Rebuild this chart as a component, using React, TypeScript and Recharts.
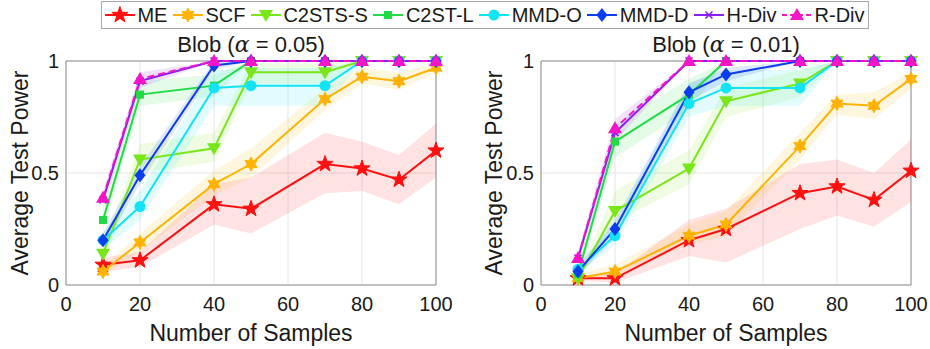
import React from "react"
import { ComposedChart, Line, Area, XAxis, YAxis, CartesianGrid, ReferenceArea } from "recharts"

const samples = [10, 20, 40, 50, 70, 80, 90, 100]
const xTicks = [0, 20, 40, 60, 80, 100]
const yTicks = [0, 0.5, 1]

// Blob, alpha = 0.05
const b05ME = [0.09, 0.11, 0.36, 0.34, 0.54, 0.52, 0.47, 0.6]
const b05SCF = [0.06, 0.19, 0.45, 0.54, 0.83, 0.93, 0.91, 0.97]
const b05C2STSS = [0.14, 0.56, 0.61, 0.95, 0.95, 1, 1, 1]
const b05C2STL = [0.29, 0.85, 0.89, 1, 1, 1, 1, 1]
const b05MMDO = [0.2, 0.35, 0.88, 0.89, 0.89, 1, 1, 1]
const b05MMDD = [0.2, 0.49, 0.98, 1, 1, 1, 1, 1]
const b05HDiv = [0.38, 0.91, 1, 1, 1, 1, 1, 1]
const b05RDiv = [0.39, 0.92, 1, 1, 1, 1, 1, 1]

const b05MEBand = [[0.06, 0.12], [0.08, 0.15], [0.27, 0.45], [0.23, 0.48], [0.41, 0.68], [0.42, 0.64], [0.36, 0.58], [0.48, 0.72]]
const b05SCFBand = [[0.04, 0.08], [0.15, 0.23], [0.4, 0.51], [0.48, 0.61], [0.78, 0.88], [0.9, 0.97], [0.87, 0.95], [0.95, 0.99]]
const b05C2STSSBand = [[0.1, 0.18], [0.5, 0.63], [0.55, 0.68], [0.9, 0.99], [0.9, 0.99], [1, 1], [1, 1], [1, 1]]
const b05C2STLBand = [[0.24, 0.34], [0.8, 0.91], [0.84, 0.94], [1, 1], [1, 1], [1, 1], [1, 1], [1, 1]]
const b05MMDOBand = [[0.16, 0.24], [0.29, 0.42], [0.8, 0.96], [0.8, 0.97], [0.8, 0.97], [1, 1], [1, 1], [1, 1]]
const b05MMDDBand = [[0.17, 0.23], [0.45, 0.53], [0.96, 1], [1, 1], [1, 1], [1, 1], [1, 1], [1, 1]]
const b05HDivBand = [[0.34, 0.42], [0.88, 0.95], [1, 1], [1, 1], [1, 1], [1, 1], [1, 1], [1, 1]]

// Blob, alpha = 0.01
const b01ME = [0.03, 0.03, 0.2, 0.25, 0.41, 0.44, 0.38, 0.51]
const b01SCF = [0.03, 0.06, 0.22, 0.27, 0.62, 0.81, 0.8, 0.92]
const b01C2STSS = [0.03, 0.33, 0.52, 0.82, 0.9, 1, 1, 1]
const b01C2STL = [0.05, 0.64, 0.85, 1, 1, 1, 1, 1]
const b01MMDO = [0.07, 0.22, 0.81, 0.88, 0.88, 1, 1, 1]
const b01MMDD = [0.06, 0.25, 0.86, 0.94, 1, 1, 1, 1]
const b01HDiv = [0.12, 0.68, 1, 1, 1, 1, 1, 1]
const b01RDiv = [0.12, 0.7, 1, 1, 1, 1, 1, 1]

const b01MEBand = [[0.02, 0.04], [0.01, 0.05], [0.13, 0.29], [0.1, 0.34], [0.25, 0.54], [0.31, 0.56], [0.26, 0.5], [0.37, 0.65]]
const b01SCFBand = [[0.02, 0.05], [0.04, 0.09], [0.18, 0.27], [0.22, 0.33], [0.56, 0.68], [0.76, 0.85], [0.74, 0.86], [0.88, 0.95]]
const b01C2STSSBand = [[0.01, 0.05], [0.28, 0.42], [0.45, 0.6], [0.75, 0.88], [0.84, 0.96], [1, 1], [1, 1], [1, 1]]
const b01C2STLBand = [[0.03, 0.08], [0.57, 0.72], [0.78, 0.92], [1, 1], [1, 1], [1, 1], [1, 1], [1, 1]]
const b01MMDOBand = [[0.05, 0.1], [0.18, 0.27], [0.75, 0.9], [0.8, 0.96], [0.8, 0.96], [1, 1], [1, 1], [1, 1]]
const b01MMDDBand = [[0.04, 0.08], [0.21, 0.29], [0.82, 0.9], [0.91, 0.97], [1, 1], [1, 1], [1, 1], [1, 1]]
const b01HDivBand = [[0.1, 0.15], [0.64, 0.74], [1, 1], [1, 1], [1, 1], [1, 1], [1, 1], [1, 1]]

const methods = [
  { key: "ME", name: "ME", color: "#ff1010", shape: "star5" },
  { key: "SCF", name: "SCF", color: "#ffb300", shape: "star6" },
  { key: "C2STSS", name: "C2STS-S", color: "#78e619", shape: "triDown" },
  { key: "C2STL", name: "C2ST-L", color: "#1fdc45", shape: "square" },
  { key: "MMDO", name: "MMD-O", color: "#12e3f5", shape: "circle" },
  { key: "MMDD", name: "MMD-D", color: "#0a3cf0", shape: "diamond" },
  { key: "HDiv", name: "H-Div", color: "#8a1cf5", shape: "cross" },
  { key: "RDiv", name: "R-Div", color: "#f514c8", shape: "triUp", dashed: true },
]

const FONT = "'Liberation Sans', Arial, sans-serif"
const TEXT = "#1a1a1a"

function buildRows(means: Record<string, number[]>, bands: Record<string, number[][]>) {
  return samples.map((x, i) => {
    const row: any = { x }
    for (const k of Object.keys(means)) row[k] = means[k][i]
    for (const k of Object.keys(bands)) row[k + "_band"] = bands[k][i]
    return row
  })
}

const rows05 = buildRows(
  { ME: b05ME, SCF: b05SCF, C2STSS: b05C2STSS, C2STL: b05C2STL, MMDO: b05MMDO, MMDD: b05MMDD, HDiv: b05HDiv, RDiv: b05RDiv },
  { ME: b05MEBand, SCF: b05SCFBand, C2STSS: b05C2STSSBand, C2STL: b05C2STLBand, MMDO: b05MMDOBand, MMDD: b05MMDDBand, HDiv: b05HDivBand }
)
const rows01 = buildRows(
  { ME: b01ME, SCF: b01SCF, C2STSS: b01C2STSS, C2STL: b01C2STL, MMDO: b01MMDO, MMDD: b01MMDD, HDiv: b01HDiv, RDiv: b01RDiv },
  { ME: b01MEBand, SCF: b01SCFBand, C2STSS: b01C2STSSBand, C2STL: b01C2STLBand, MMDO: b01MMDOBand, MMDD: b01MMDDBand, HDiv: b01HDivBand }
)

function starPoints(cx: number, cy: number, n: number, ro: number, ri: number) {
  const pts: string[] = []
  for (let i = 0; i < 2 * n; i++) {
    const r = i % 2 ? ri : ro
    const a = -Math.PI / 2 + (i * Math.PI) / n
    pts.push(`${cx + r * Math.cos(a)},${cy + r * Math.sin(a)}`)
  }
  return pts.join(" ")
}

function Marker({ shape, color, cx, cy }: { shape: string; color: string; cx: number; cy: number }) {
  switch (shape) {
    case "star5":
      return <polygon points={starPoints(cx, cy, 5, 8.5, 3.4)} fill={color} stroke={color} strokeWidth={1} />
    case "star6":
      return <polygon points={starPoints(cx, cy, 6, 7, 3.8)} fill={color} stroke={color} strokeWidth={1} />
    case "triDown":
      return <polygon points={`${cx - 7},${cy - 5} ${cx + 7},${cy - 5} ${cx},${cy + 7}`} fill={color} />
    case "triUp":
      return <polygon points={`${cx - 7},${cy + 5} ${cx + 7},${cy + 5} ${cx},${cy - 7}`} fill={color} />
    case "square":
      return <rect x={cx - 4} y={cy - 4} width={8} height={8} fill={color} />
    case "circle":
      return <circle cx={cx} cy={cy} r={5.5} fill={color} />
    case "diamond":
      return <polygon points={`${cx},${cy - 7} ${cx + 5.5},${cy} ${cx},${cy + 7} ${cx - 5.5},${cy}`} fill={color} />
    default:
      return (
        <path
          d={`M${cx - 3.5},${cy - 3.5}L${cx + 3.5},${cy + 3.5}M${cx - 3.5},${cy + 3.5}L${cx + 3.5},${cy - 3.5}M${cx - 4},${cy}L${cx + 4},${cy}`}
          stroke={color}
          strokeWidth={1.6}
        />
      )
  }
}

const makeDot = (shape: string, color: string) => (props: any) => {
  const { cx, cy, index } = props
  if (cx == null || cy == null) return <g key={`${shape}-${index}`} />
  return (
    <g key={`${shape}-${index}`}>
      <Marker shape={shape} color={color} cx={cx} cy={cy} />
    </g>
  )
}

const tickStyle = { fontSize: 20, fontFamily: FONT, fill: TEXT }

function Panel({ rows, left, yAxisWidth, marginRight }: { rows: any[]; left: number; yAxisWidth: number; marginRight: number }) {
  return (
    <div style={{ position: "absolute", left, top: 0 }}>
      <ComposedChart width={465} height={349} data={rows} margin={{ top: 61, right: marginRight, bottom: 0, left: 0 }}>
        <CartesianGrid stroke="#e6e6e6" strokeWidth={1} />
        <XAxis
          type="number"
          dataKey="x"
          domain={[0, 100]}
          ticks={xTicks}
          tickLine={false}
          axisLine={false}
          tickSize={0}
          tickMargin={12}
          height={64}
          tick={tickStyle}
        />
        <YAxis
          type="number"
          domain={[0, 1]}
          ticks={yTicks}
          tickLine={false}
          axisLine={false}
          tickSize={0}
          tickMargin={7}
          width={yAxisWidth}
          tick={tickStyle}
          tickFormatter={(v: number) => String(v)}
        />
        <ReferenceArea x1={0} x2={100} y1={0} y2={1} fill="none" stroke="#8f8f8f" strokeWidth={1} />
        {methods
          .filter((m) => rows[0][m.key + "_band"] !== undefined)
          .map((m) => (
            <Area
              key={m.key + "_band"}
              type="linear"
              dataKey={m.key + "_band"}
              stroke="none"
              fill={m.color}
              fillOpacity={0.12}
              activeDot={false}
              dot={false}
              isAnimationActive={false}
            />
          ))}
        {methods.map((m) => (
          <Line
            key={m.key}
            type="linear"
            dataKey={m.key}
            stroke={m.color}
            strokeWidth={2}
            strokeDasharray={m.dashed ? "7 4" : undefined}
            dot={makeDot(m.shape, m.color)}
            activeDot={false}
            isAnimationActive={false}
          />
        ))}
      </ComposedChart>
    </div>
  )
}

function LegendBox() {
  return (
    <div
      style={{
        position: "absolute",
        top: 1,
        left: 484.5,
        transform: "translateX(-50%)",
        height: 26,
        border: "1px solid #a8a8a8",
        background: "#fff",
        display: "flex",
        alignItems: "center",
        gap: 5,
        padding: "0 3px",
        fontFamily: FONT,
        fontSize: 20,
        color: TEXT,
        whiteSpace: "nowrap",
      }}
    >
      {methods.map((m) => (
        <div key={m.key} style={{ display: "flex", alignItems: "center", gap: 3 }}>
          <svg width={30} height={20}>
            <line x1={0} y1={10} x2={30} y2={10} stroke={m.color} strokeWidth={2} strokeDasharray={m.dashed ? "5 3" : undefined} />
            <Marker shape={m.shape} color={m.color} cx={15} cy={10} />
          </svg>
          <span>{m.name}</span>
        </div>
      ))}
    </div>
  )
}

function Overlay() {
  const label = { fontFamily: FONT, fontSize: 23, fill: TEXT }
  const title = { fontFamily: FONT, fontSize: 22, fill: TEXT }
  const alpha = (v: string) => (
    <>
      Blob (<tspan fontFamily="'DejaVu Serif', 'Liberation Serif', serif" fontStyle="italic">α</tspan> = {v})
    </>
  )
  return (
    <svg width={930} height={349} style={{ position: "absolute", left: 0, top: 0, pointerEvents: "none" }}>
      <text x={251} y={52} textAnchor="middle" {...title}>{alpha("0.05")}</text>
      <text x={726} y={52} textAnchor="middle" {...title}>{alpha("0.01")}</text>
      <text x={251} y={341} textAnchor="middle" {...label}>Number of Samples</text>
      <text x={726} y={341} textAnchor="middle" {...label}>Number of Samples</text>
      <text x={28} y={173} textAnchor="middle" transform="rotate(-90 28 173)" {...label}>Average Test Power</text>
      <text x={502} y={173} textAnchor="middle" transform="rotate(-90 502 173)" {...label}>Average Test Power</text>
    </svg>
  )
}

export default function App() {
  return (
    <div style={{ position: "absolute", left: 0, top: 0, width: 930, height: 349, background: "#fff", overflow: "hidden" }}>
      <Panel rows={rows05} left={0} yAxisWidth={66} marginRight={29} />
      <Panel rows={rows01} left={465} yAxisWidth={76} marginRight={19} />
      <Overlay />
      <LegendBox />
    </div>
  )
}
